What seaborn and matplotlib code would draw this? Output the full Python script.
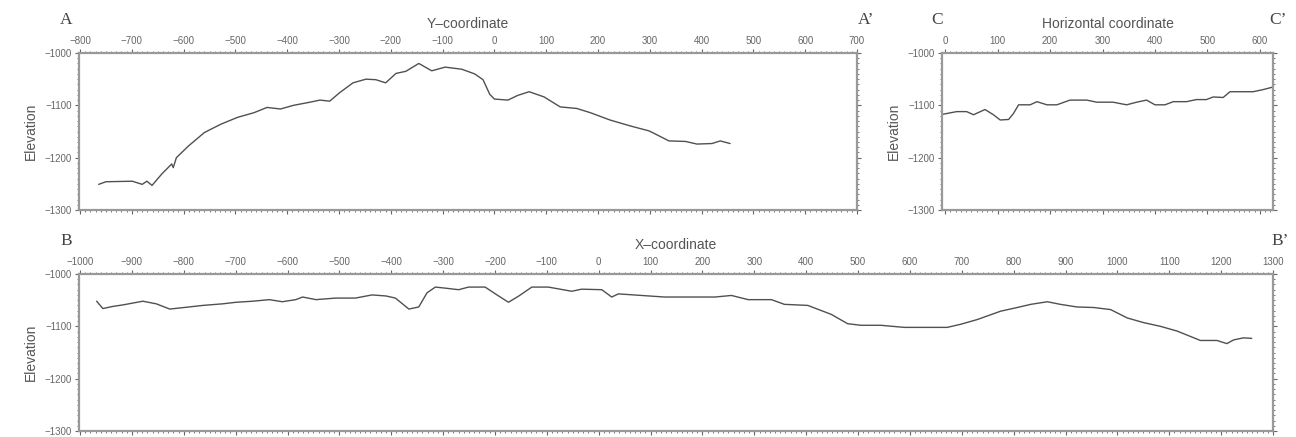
import numpy as np
import pandas as pd
import seaborn as sns
import matplotlib.pyplot as plt
from matplotlib.ticker import MultipleLocator

# profile A-A' (Y-coordinate vs elevation)
a_x = [-764, -750, -699, -680, -671, -661, -642, -623, -620, -614, -591, -560, -528, -496,
       -464, -439, -413, -388, -356, -337, -318, -299, -273, -248, -229, -210, -190, -171,
       -146, -121, -95, -63, -38, -22, -9, 0, 26, 45, 67, 96, 127, 159, 185, 223, 261, 299,
       337, 369, 391, 420, 436, 455]
a_y = [-1251, -1246, -1245, -1251, -1245, -1253, -1231, -1212, -1219, -1200, -1178, -1152,
       -1136, -1123, -1114, -1104, -1107, -1100, -1094, -1090, -1092, -1076, -1057, -1050,
       -1051, -1057, -1039, -1035, -1020, -1034, -1027, -1031, -1040, -1051, -1079, -1088,
       -1090, -1081, -1074, -1084, -1103, -1106, -1114, -1128, -1139, -1149, -1168, -1169,
       -1174, -1173, -1168, -1173]

# profile C-C' (horizontal coordinate vs elevation)
c_x = [-4, 22, 41, 54, 76, 92, 105, 121, 130, 140, 162, 175, 194, 213, 238, 270, 289, 320,
       346, 365, 384, 400, 419, 435, 460, 479, 498, 511, 530, 543, 562, 587, 606, 625]
c_y = [-1117, -1112, -1112, -1118, -1108, -1118, -1128, -1127, -1116, -1099, -1099, -1093,
       -1099, -1099, -1090, -1090, -1094, -1094, -1099, -1094, -1090, -1099, -1099, -1093,
       -1093, -1089, -1089, -1084, -1085, -1074, -1074, -1074, -1070, -1065]

# profile B-B' (X-coordinate vs elevation)
b_x = [-968, -956, -937, -917, -879, -853, -827, -790, -763, -725, -699, -667, -635, -610,
       -584, -571, -545, -507, -469, -437, -410, -392, -366, -347, -331, -315, -296, -270,
       -251, -219, -193, -174, -154, -129, -97, -52, -33, 6, 25, 38, 127, 224, 256, 288, 333,
       358, 403, 448, 480, 506, 544, 589, 672, 698, 730, 775, 807, 833, 865, 890, 922, 954,
       987, 1019, 1051, 1083, 1115, 1160, 1192, 1211, 1224, 1243, 1259]
b_y = [-1052, -1066, -1062, -1059, -1052, -1057, -1067, -1063, -1060, -1057, -1054, -1052,
       -1049, -1053, -1049, -1044, -1049, -1046, -1046, -1040, -1042, -1046, -1067, -1063,
       -1036, -1025, -1027, -1030, -1025, -1025, -1042, -1054, -1042, -1025, -1025, -1033,
       -1029, -1030, -1044, -1038, -1044, -1044, -1041, -1049, -1049, -1058, -1060, -1077,
       -1095, -1098, -1098, -1102, -1102, -1096, -1087, -1071, -1064, -1058, -1053, -1058,
       -1063, -1064, -1068, -1084, -1093, -1100, -1109, -1127, -1127, -1133, -1126, -1122,
       -1123]

sns.set_theme(style="white")
plt.rcParams['font.family'] = ['Liberation Sans', 'DejaVu Sans']

grey = "#666666"
fig = plt.figure(figsize=(12.96, 4.37), dpi=100)

def profile(rect, xs, ys, xlim, title, left, right, lx, rx, ly):
    ax = fig.add_axes(rect)
    df = pd.DataFrame({"x": xs, "y": ys})
    sns.lineplot(data=df, x="x", y="y", ax=ax, color="#505050", lw=1.0,
                 sort=False, estimator=None)
    ax.set_xlim(*xlim)
    ax.set_ylim(-1300, -1000)
    ax.xaxis.set_major_locator(MultipleLocator(100))
    ax.xaxis.set_minor_locator(MultipleLocator(10))
    ax.yaxis.set_major_locator(MultipleLocator(100))
    ax.yaxis.set_minor_locator(MultipleLocator(10))
    ax.tick_params(which="both", direction="out", top=True, bottom=True, left=True,
                   right=True, labeltop=True, labelbottom=False, color=grey,
                   labelcolor=grey, labelsize=7, pad=2)
    ax.tick_params(which="major", length=3, width=0.8)
    ax.tick_params(which="minor", length=1.5, width=0.6)
    ax.xaxis.set_label_position("top")
    ax.set_xlabel(title, fontsize=10, color="#555555", labelpad=6)
    ax.set_ylabel("Elevation", fontsize=10, color="#555555", labelpad=5)
    for s in ax.spines.values():
        s.set_color("#999999")
        s.set_linewidth(1.6)
    fig.text(lx / 1296, 1 - ly / 437, left, family="Liberation Serif", fontsize=12.5,
             color="#444444", ha="center", va="center")
    fig.text(rx / 1296, 1 - ly / 437, right, family="Liberation Serif", fontsize=12.5,
             color="#444444", ha="center", va="center")
    return ax

profile([79 / 1296, 1 - 210 / 437, 778 / 1296, 157 / 437], a_x, a_y, (-802, 700),
        "Y\u2013coordinate", "A", "A\u2019", 66, 866, 20)
profile([942 / 1296, 1 - 210 / 437, 331 / 1296, 157 / 437], c_x, c_y, (-6, 625),
        "Horizontal coordinate", "C", "C\u2019", 937, 1278, 20)
profile([79 / 1296, 1 - 431 / 437, 1194 / 1296, 157 / 437], b_x, b_y, (-1002, 1300),
        "X\u2013coordinate", "B", "B\u2019", 66, 1280, 241)

fig.savefig("out.png", dpi=100)
